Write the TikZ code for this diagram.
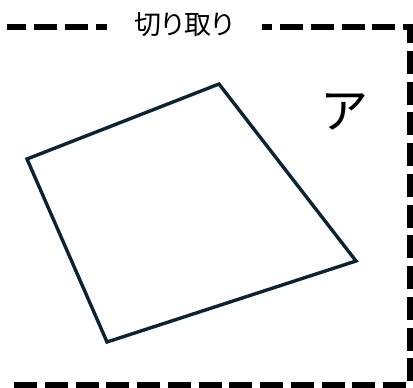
\documentclass[tikz,border=0pt]{standalone}
\usepackage{fontspec}
\newfontfamily\jpfont{Noto Sans CJK JP}
\newfontfamily\jppfont{Noto Sans CJK JP}[RawFeature=+palt]
\definecolor{navy}{HTML}{0B2433}
\begin{document}
\begin{tikzpicture}[x=1pt,y=-1pt,
  cutline/.style={line width=5.8pt,dash pattern=on 23pt off 7.75pt,dash phase=3.75pt},
  quadline/.style={draw=navy,line width=3.4pt,line join=miter},
  titlelabel/.style={font=\jppfont\fontsize{27}{27}\selectfont,fill=white,inner sep=0pt,minimum width=155pt,minimum height=20pt},
  kana/.style={font=\jpfont\fontsize{48}{48}\selectfont,inner sep=0pt}]
\useasboundingbox (0,0) rectangle (413,388);
\draw[cutline] (7,27) -- (410,27) -- (410,385) -- (7,385);
\node[titlelabel] (title) at (184,24.5) {切り取り};
\draw[quadline] (27,159) -- (219,84) -- (356,261) -- (107,342) -- cycle;
\node[kana] (a) at (344,112) {ア};
\end{tikzpicture}
\end{document}
